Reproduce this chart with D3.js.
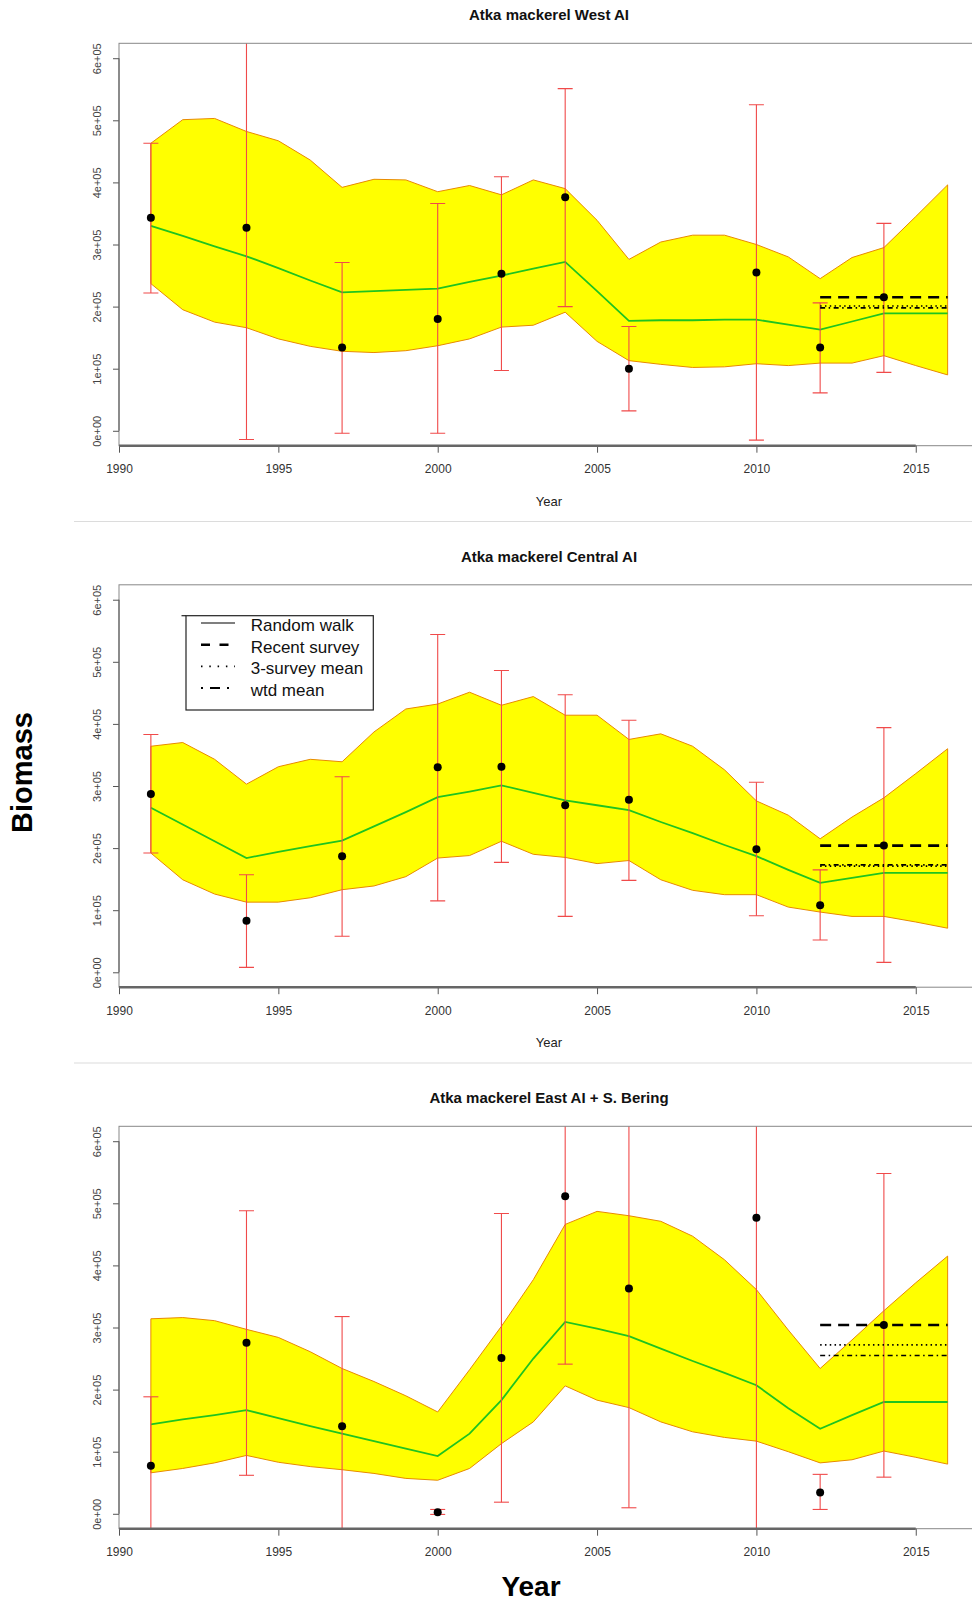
<!DOCTYPE html>
<html><head><meta charset="utf-8">
<script src="https://cdn.jsdelivr.net/npm/d3@7"></script>
<style>body{margin:0;background:#fff} svg{display:block}</style>
</head><body><svg id="c" width="972" height="1604"></svg>
<script>
// ---------- data ----------
const years = [1991,1992,1993,1994,1995,1996,1997,1998,1999,2000,2001,2002,2003,2004,2005,2006,2007,2008,2009,2010,2011,2012,2013,2014,2015,2016];
const surveyYears = [1991,1994,1997,2000,2002,2004,2006,2010,2012,2014];
const refYears = [2012, 2016];
const titles = ["Atka mackerel West AI","Atka mackerel Central AI","Atka mackerel East AI + S. Bering"];
const xTicks = [1990,1995,2000,2005,2010,2015];
const yTicks = [0,100000,200000,300000,400000,500000,600000];
const yTickLabels = ["0e+00","1e+05","2e+05","3e+05","4e+05","5e+05","6e+05"];
const legendLabels = ["Random walk","Recent survey","3-survey mean","wtd mean"];

// West AI
const westBiomass = [343000,327000,134000,180000,253000,376000,100000,255000,134000,215000];
const westCILow  = [222000,-14000,-4000,-4000,97000,200000,32000,-15000,61000,94000];
const westCIHigh = [463000,668000,271000,366000,409000,551000,168000,525000,206000,334000];
const westFit   = [330000,314000,297000,281000,262000,242000,223000,225000,227000,229000,240000,250000,261000,272000,225000,177000,178000,178000,179000,179000,171000,163000,176000,189000,189000,189000];
const westUpper = [463000,501000,503000,482000,467000,436000,392000,405000,404000,385000,395000,380000,404000,390000,339000,276000,304000,315000,315000,300000,280000,245000,279000,295000,345000,396000];
const westLower = [237000,195000,175000,166000,148000,136000,128000,126000,129000,137000,148000,167000,170000,191000,144000,113000,107000,102000,103000,108000,105000,109000,109000,121000,105000,90000];
const westRefs = [215000, 201000, 198000]; // recent, 3-survey mean, wtd mean

// Central AI
const centralBiomass = [287000,83000,187000,330000,331000,269000,278000,198000,108000,204000];
const centralCILow  = [192000,8000,58000,115000,177000,90000,148000,91000,52000,16000];
const centralCIHigh = [383000,157000,315000,544000,486000,447000,406000,306000,165000,394000];
const centralFit   = [265000,238000,211000,184000,194000,203000,212000,235000,258000,282000,291000,301000,289000,277000,269000,261000,242000,224000,205000,187000,165000,144000,152000,160000,160000,160000];
const centralUpper = [364000,370000,343000,303000,331000,343000,339000,387000,424000,432000,451000,430000,444000,414000,414000,375000,384000,364000,326000,276000,253000,215000,250000,281000,320000,360000];
const centralLower = [192000,149000,126000,113000,113000,120000,133000,139000,154000,184000,188000,211000,190000,185000,175000,180000,149000,132000,125000,125000,105000,97000,90000,90000,81000,71000];
const centralRefs = [204000, 171000, 173000];

// East AI + S. Bering
const eastBiomass = [77500,275600,141000,2600,251000,511500,362800,476600,34400,304000];
const eastCILow  = [-33000,62000,-36000,-1000,18700,241000,9700,-40000,7000,59000];
const eastCIHigh = [188400,488000,317600,7000,483500,782000,716000,993000,63500,548000];
const eastFit   = [144000,152000,159000,167000,154000,141000,129000,117000,105000,93000,129000,183000,250000,309000,298000,286000,266000,246000,227000,207000,170000,137000,159000,180000,180000,180000];
const eastUpper = [314000,316000,311000,297000,284000,261000,234000,213000,190000,164000,232000,302000,377000,466000,487000,480000,471000,447000,409000,361000,296000,234000,280000,327000,372000,415000];
const eastLower = [66000,73000,82000,94000,83000,76000,71000,65000,57000,54000,73000,113000,148000,206000,183000,171000,148000,132000,123000,117000,100000,82000,87000,101000,91000,80000];
const eastRefs = [304000, 272000, 255000];

const panels = [
  {title: titles[0], biomass: westBiomass, lo: westCILow, hi: westCIHigh, fit: westFit, upper: westUpper, lower: westLower, refs: westRefs, legend: false, xlab: true},
  {title: titles[1], biomass: centralBiomass, lo: centralCILow, hi: centralCIHigh, fit: centralFit, upper: centralUpper, lower: centralLower, refs: centralRefs, legend: true, xlab: true},
  {title: titles[2], biomass: eastBiomass, lo: eastCILow, hi: eastCIHigh, fit: eastFit, upper: eastUpper, lower: eastLower, refs: eastRefs, legend: false, xlab: false}
];

// ---------- drawing ----------
const FONT = "'Liberation Sans', Arial, Helvetica, sans-serif";
const svg = d3.select("#c");
const x = d3.scaleLinear().domain([1990, 2017]).range([119, 979.5]);
const PANEL_STEP = 541.5;
const refDash = ["11,7", "1.5,3.3", "5,3.5,1.5,3.5"];
const refWidth = [2.6, 1.6, 1.6];

// separators between stacked plots
[521.5, 1063].forEach(yy => {
  svg.append("line").attr("x1", 74).attr("x2", 972).attr("y1", yy).attr("y2", yy)
    .attr("stroke", "#dcdcdc").attr("stroke-width", 1.2);
});

panels.forEach((p, i) => {
  const off = i * PANEL_STEP;
  const top = 43.3 + off, bottom = 445.7 + off;
  const y = d3.scaleLinear().domain([-24000, 624000]).range([bottom, top]);
  const g = svg.append("g");

  // title
  g.append("text").attr("x", 549).attr("y", 20 + off).attr("text-anchor", "middle")
    .attr("font-family", FONT).attr("font-weight", "bold").attr("font-size", 15).attr("fill", "#111")
    .text(p.title);

  const clipId = "clip" + i;
  svg.append("clipPath").attr("id", clipId).append("rect")
    .attr("x", x(1990)).attr("y", top).attr("width", x(2017) - x(1990)).attr("height", bottom - top);
  const pg = g.append("g").attr("clip-path", `url(#${clipId})`);

  // confidence band
  const area = d3.area().x((d, k) => x(years[k])).y0((d, k) => y(p.lower[k])).y1((d, k) => y(p.upper[k]));
  pg.append("path").datum(years).attr("d", area).attr("fill", "#ffff00")
    .attr("stroke", "#e88a00").attr("stroke-width", 1);

  // random-walk fit
  const line = d3.line().x((d, k) => x(years[k])).y(d => y(d));
  pg.append("path").datum(p.fit).attr("d", line).attr("fill", "none")
    .attr("stroke", "#1fc41f").attr("stroke-width", 1.8);

  // error bars
  const eb = pg.append("g").attr("stroke", "#f04a4a").attr("stroke-width", 1.1);
  surveyYears.forEach((yr, k) => {
    const cx = x(yr);
    eb.append("line").attr("x1", cx).attr("x2", cx).attr("y1", y(p.lo[k])).attr("y2", y(p.hi[k]));
    eb.append("line").attr("x1", cx - 7.5).attr("x2", cx + 7.5).attr("y1", y(p.lo[k])).attr("y2", y(p.lo[k]));
    eb.append("line").attr("x1", cx - 7.5).attr("x2", cx + 7.5).attr("y1", y(p.hi[k])).attr("y2", y(p.hi[k]));
  });

  // reference lines
  p.refs.forEach((v, k) => {
    pg.append("line").attr("x1", x(refYears[0])).attr("x2", x(refYears[1]))
      .attr("y1", y(v)).attr("y2", y(v)).attr("stroke", "#000")
      .attr("stroke-width", refWidth[k]).attr("stroke-dasharray", refDash[k]);
  });

  // survey points
  pg.selectAll("circle.pt").data(p.biomass).enter().append("circle")
    .attr("cx", (d, k) => x(surveyYears[k])).attr("cy", d => y(d)).attr("r", 4).attr("fill", "#000");

  // box
  g.append("rect").attr("x", x(1990)).attr("y", top).attr("width", x(2017) - x(1990)).attr("height", bottom - top)
    .attr("fill", "none").attr("stroke", "#888").attr("stroke-width", 1);

  // x axis
  const xa = g.append("g").attr("transform", `translate(0,${bottom})`)
    .call(d3.axisBottom(x).tickValues(xTicks).tickSize(7).tickSizeOuter(0).tickFormat(d3.format("d")));
  xa.select(".domain").remove();
  xa.selectAll("line").attr("stroke", "#555");
  xa.selectAll("text").attr("font-family", FONT).attr("font-size", 12).attr("fill", "#333").attr("y", 19);
  g.append("line").attr("x1", x(1990)).attr("x2", x(2015)).attr("y1", bottom).attr("y2", bottom)
    .attr("stroke", "#666").attr("stroke-width", 2.5);

  // y axis
  const ya = g.append("g").attr("transform", `translate(${x(1990)},0)`)
    .call(d3.axisLeft(y).tickValues(yTicks).tickSize(6).tickSizeOuter(0).tickFormat((d, k) => yTickLabels[k]));
  ya.select(".domain").remove();
  ya.selectAll("line").attr("stroke", "#555");
  ya.selectAll("text").attr("transform", "rotate(-90)").attr("x", 0).attr("y", -22).attr("dy", "0.35em")
    .attr("text-anchor", "middle").attr("font-family", FONT).attr("font-size", 11).attr("fill", "#444");
  g.append("line").attr("x1", x(1990)).attr("x2", x(1990)).attr("y1", y(0)).attr("y2", y(600000))
    .attr("stroke", "#666").attr("stroke-width", 1.2);

  if (p.xlab) {
    g.append("text").attr("x", 549).attr("y", bottom + 60).attr("text-anchor", "middle")
      .attr("font-family", FONT).attr("font-size", 13).attr("fill", "#222").text("Year");
  }

  if (p.legend) {
    const lx = 186, ly = 615.7 + off - PANEL_STEP, lw = 187.3, lh = 94.3;
    const lg = g.append("g");
    lg.append("rect").attr("x", lx).attr("y", ly).attr("width", lw).attr("height", lh)
      .attr("fill", "#fff").attr("stroke", "#222").attr("stroke-width", 1.2);
    lg.append("line").attr("x1", lx - 4.5).attr("x2", lx).attr("y1", ly).attr("y2", ly)
      .attr("stroke", "#222").attr("stroke-width", 1.2);
    const legDash = [null, "9,9.5", "1.5,6.8", "2,7,10,7"];
    const legW = [1.1, 2.4, 1.6, 2];
    legendLabels.forEach((lab, k) => {
      const rowY = ly + 9.3 + k * 21.7;
      const ln = lg.append("line").attr("x1", lx + 15).attr("x2", lx + 49).attr("y1", rowY - 2).attr("y2", rowY - 2)
        .attr("stroke", "#000").attr("stroke-width", legW[k]);
      if (legDash[k]) ln.attr("stroke-dasharray", legDash[k]);
      lg.append("text").attr("x", lx + 64.7).attr("y", rowY).attr("dy", "0.35em")
        .attr("font-family", FONT).attr("font-size", 17).attr("fill", "#111").text(lab);
    });
  }
});

// outer labels
svg.append("text").attr("transform", "translate(31.5,772.5) rotate(-90)").attr("text-anchor", "middle")
  .attr("font-family", FONT).attr("font-weight", "bold").attr("font-size", 29).attr("fill", "#000").text("Biomass");
svg.append("text").attr("x", 531).attr("y", 1596).attr("text-anchor", "middle")
  .attr("font-family", FONT).attr("font-weight", "bold").attr("font-size", 28).attr("fill", "#000").text("Year");
</script>
</body></html>
